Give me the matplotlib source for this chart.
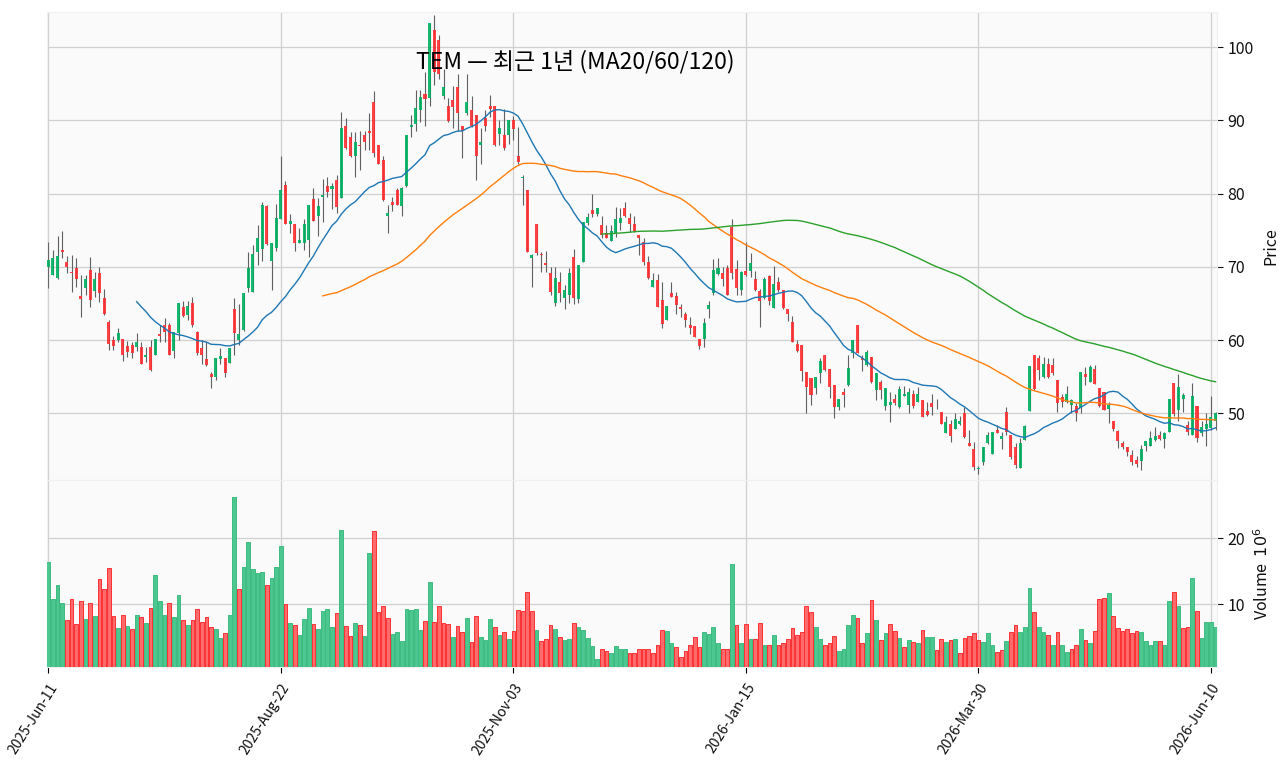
import numpy as np
import pandas as pd
import matplotlib
matplotlib.use('Agg')
import matplotlib.pyplot as plt

plt.rcParams['font.family'] = ['Noto Sans CJK KR', 'DejaVu Sans']

# tick labels every 50 sessions
tick_labels = ['2025-Jun-11', '2025-Aug-22', '2025-Nov-03',
               '2026-Jan-15', '2026-Mar-30', '2026-Jun-10']

# daily OHLC
opens = [70.0, 68.9, 68.5, 72.3, 70.6, 69.3, 69.8, 66.0, 67.1, 69.6,
         66.7, 69.1, 65.8, 62.5, 60.0, 60.0, 60.1, 59.2, 59.3, 59.0,
         59.1, 57.7, 59.0, 58.0, 60.9, 62.0, 62.0, 58.5, 61.0, 64.5,
         63.4, 65.1, 61.1, 58.9, 57.4, 55.4, 55.0, 57.4, 57.6, 56.9,
         64.3, 60.0, 61.4, 67.1, 66.6, 72.0, 72.4, 78.3, 70.8, 72.6,
         76.6, 81.2, 75.8, 75.8, 73.3, 73.3, 73.7, 79.2, 77.0, 79.5,
         81.0, 80.7, 81.8, 79.4, 89.2, 87.7, 85.1, 86.7, 88.0, 88.5,
         92.5, 86.7, 84.6, 77.0, 78.8, 80.5, 78.3, 81.0, 89.1, 89.5,
         91.4, 93.6, 93.0, 102.3, 101.0, 93.3, 92.0, 92.8, 94.5, 89.2,
         91.0, 91.4, 90.7, 86.6, 90.3, 92.0, 92.0, 88.2, 88.0, 88.0,
         90.1, 85.2, 82.1, 80.5, 71.2, 75.9, 71.7, 70.5, 69.2, 65.1,
         68.0, 65.8, 66.1, 71.4, 65.6, 70.7, 76.0, 77.8, 77.2, 75.7,
         74.6, 73.5, 74.6, 76.0, 78.0, 76.7, 75.8, 74.4, 73.4, 70.6,
         67.3, 68.2, 65.5, 62.7, 66.5, 66.0, 64.5, 63.6, 62.1, 61.9,
         60.1, 60.1, 64.2, 66.4, 69.0, 69.1, 69.9, 75.4, 69.7, 66.8,
         69.5, 69.5, 68.4, 66.7, 65.7, 68.8, 64.4, 68.0, 66.8, 64.2,
         62.5, 59.5, 59.3, 55.6, 54.8, 53.5, 55.5, 58.0, 56.1, 53.9,
         50.9, 52.9, 53.9, 58.2, 62.0, 57.6, 56.6, 57.7, 53.2, 54.3,
         51.0, 51.1, 52.0, 50.9, 52.4, 51.1, 52.7, 51.5, 51.8, 50.3,
         51.4, 50.9, 50.2, 47.3, 48.5, 47.9, 48.5, 50.0, 46.0, 45.1,
         42.4, 43.3, 46.0, 44.5, 47.7, 46.5, 50.2, 47.1, 45.4, 42.6,
         46.4, 50.3, 58.0, 57.5, 54.9, 56.8, 56.6, 54.5, 52.3, 51.6,
         51.1, 51.0, 50.7, 55.4, 54.3, 56.1, 53.5, 52.9, 50.6, 48.9,
         47.6, 46.0, 45.4, 44.3, 43.6, 43.5, 45.5, 45.5, 46.3, 47.1,
         46.5, 47.4, 54.2, 50.5, 52.0, 48.4, 47.0, 51.0, 47.3, 47.9,
         48.0, 49.0]
highs = [73.4, 72.3, 74.2, 74.9, 71.5, 71.6, 71.2, 68.9, 68.9, 71.4,
         69.3, 70.0, 67.0, 62.8, 60.6, 61.6, 60.1, 59.9, 59.8, 61.0,
         59.8, 59.1, 60.0, 60.1, 62.1, 63.0, 62.3, 61.1, 65.0, 65.3,
         65.3, 65.9, 61.2, 60.0, 59.7, 55.7, 57.6, 58.9, 57.6, 58.9,
         65.8, 64.9, 66.4, 72.0, 73.0, 75.7, 78.9, 78.5, 73.3, 78.6,
         85.2, 81.7, 77.2, 75.8, 75.3, 76.5, 78.4, 80.8, 79.4, 82.0,
         82.3, 81.5, 82.6, 91.1, 90.3, 88.4, 88.4, 88.6, 88.6, 91.0,
         94.0, 86.7, 85.2, 78.4, 79.5, 80.8, 80.9, 88.0, 90.7, 94.1,
         94.1, 96.6, 103.3, 104.4, 101.6, 97.0, 93.0, 94.7, 96.4, 89.3,
         96.4, 93.3, 90.8, 88.9, 91.4, 93.4, 92.0, 90.0, 91.6, 90.0,
         90.6, 89.1, 82.5, 80.5, 71.8, 75.9, 72.0, 72.1, 70.0, 70.0,
         69.3, 67.5, 69.8, 72.4, 70.3, 76.1, 77.4, 80.0, 78.0, 77.0,
         75.7, 75.7, 78.2, 78.0, 78.9, 77.3, 77.0, 74.4, 73.9, 71.5,
         69.1, 69.0, 68.0, 64.6, 67.9, 66.6, 64.9, 63.9, 63.2, 61.9,
         60.1, 63.0, 65.3, 71.1, 71.2, 70.0, 70.2, 76.5, 70.9, 69.4,
         73.4, 71.9, 69.4, 67.0, 68.6, 68.9, 70.1, 68.6, 66.8, 64.2,
         63.3, 60.0, 59.3, 55.6, 54.8, 55.0, 57.6, 58.0, 56.1, 53.9,
         52.0, 53.4, 58.0, 60.0, 62.0, 58.0, 58.6, 57.7, 55.5, 54.5,
         53.4, 52.9, 52.7, 53.7, 53.7, 53.4, 53.2, 53.6, 51.8, 51.5,
         52.6, 52.0, 50.2, 49.6, 49.1, 50.0, 49.6, 50.9, 47.7, 46.1,
         42.8, 45.4, 47.5, 47.4, 48.4, 47.5, 50.9, 47.1, 45.9, 46.6,
         48.4, 56.5, 58.0, 57.9, 57.7, 57.6, 57.6, 54.5, 52.7, 53.8,
         52.0, 51.4, 55.6, 56.3, 56.6, 56.6, 53.5, 52.9, 51.6, 49.0,
         47.7, 46.2, 45.4, 45.0, 44.2, 45.7, 46.2, 47.6, 48.2, 47.6,
         47.5, 51.9, 54.2, 55.4, 52.8, 48.9, 54.2, 51.0, 48.9, 50.0,
         52.4, 50.2]
lows = [67.1, 68.9, 68.4, 71.2, 69.2, 66.6, 67.2, 63.2, 66.1, 64.5,
        65.9, 65.2, 63.4, 58.6, 58.6, 59.8, 57.2, 57.7, 57.5, 58.5,
        56.7, 57.0, 55.8, 58.0, 59.7, 59.7, 58.0, 57.6, 60.0, 63.1,
        62.8, 61.8, 57.9, 56.8, 56.4, 53.4, 54.5, 56.7, 54.9, 56.9,
        57.9, 59.3, 61.3, 66.6, 66.6, 70.3, 70.8, 73.0, 66.9, 72.1,
        76.6, 75.8, 74.6, 72.2, 73.2, 72.3, 71.4, 76.2, 74.2, 76.1,
        79.5, 77.9, 77.4, 79.4, 86.1, 85.0, 82.3, 83.2, 86.0, 86.0,
        85.0, 84.1, 79.0, 74.6, 77.6, 78.4, 77.0, 80.9, 87.7, 88.6,
        89.8, 89.2, 92.0, 94.8, 95.7, 92.9, 89.8, 88.9, 88.6, 84.8,
        90.8, 89.1, 81.8, 84.1, 88.5, 90.5, 86.5, 86.6, 85.9, 86.8,
        87.3, 84.0, 78.4, 72.0, 67.3, 71.6, 69.3, 69.3, 66.2, 64.7,
        65.2, 64.3, 65.0, 64.9, 65.0, 70.7, 75.7, 76.8, 77.0, 73.9,
        73.9, 73.5, 74.1, 75.0, 76.8, 74.8, 74.7, 71.6, 70.2, 68.4,
        67.3, 64.5, 61.6, 62.7, 65.9, 63.5, 63.2, 61.8, 60.9, 60.4,
        58.8, 59.1, 63.0, 66.1, 68.9, 67.4, 66.1, 68.4, 66.1, 66.1,
        68.8, 68.6, 66.7, 61.8, 65.6, 64.8, 64.4, 66.6, 64.3, 62.6,
        59.7, 58.4, 54.4, 50.0, 51.1, 52.7, 54.1, 55.8, 52.1, 49.4,
        50.5, 50.8, 53.8, 57.5, 58.3, 55.8, 56.4, 54.2, 51.8, 52.0,
        50.4, 48.8, 51.2, 50.7, 52.4, 50.1, 50.7, 51.5, 49.5, 49.7,
        49.8, 50.6, 48.6, 47.3, 46.1, 47.8, 48.4, 46.7, 45.5, 42.3,
        41.7, 43.0, 45.8, 44.4, 47.3, 45.2, 47.1, 43.7, 42.6, 42.5,
        46.4, 50.3, 53.2, 54.5, 54.8, 54.8, 55.2, 50.2, 50.9, 51.4,
        50.0, 48.9, 50.0, 53.9, 54.3, 54.0, 50.8, 50.4, 48.7, 47.6,
        45.3, 45.2, 44.2, 43.0, 42.7, 42.3, 44.8, 45.5, 46.2, 46.4,
        45.3, 47.4, 49.7, 48.9, 50.2, 47.0, 47.0, 46.1, 46.9, 45.5,
        47.7, 47.7]
closes = [70.9, 71.2, 71.5, 72.0, 70.0, 69.2, 68.3, 65.6, 68.4, 65.5,
          68.4, 66.5, 63.5, 59.5, 59.2, 61.0, 58.0, 58.4, 58.3, 59.7,
          56.8, 58.0, 55.9, 60.1, 60.6, 61.1, 58.0, 61.1, 65.0, 63.3,
          64.6, 62.0, 58.2, 57.9, 56.6, 55.0, 57.6, 57.8, 55.5, 58.9,
          61.0, 60.9, 66.4, 69.8, 71.7, 73.9, 78.4, 73.1, 73.3, 76.7,
          80.5, 75.8, 76.3, 73.3, 73.7, 75.9, 78.4, 76.3, 78.3, 79.8,
          80.2, 81.1, 78.2, 88.9, 86.2, 85.1, 87.0, 86.5, 87.0, 88.3,
          85.5, 84.1, 79.1, 77.4, 78.4, 78.5, 80.8, 88.0, 89.4, 91.7,
          93.2, 92.9, 103.3, 96.6, 96.4, 94.5, 89.9, 91.8, 91.0, 88.5,
          92.5, 89.3, 85.2, 87.0, 89.2, 91.5, 86.6, 88.9, 86.2, 90.0,
          88.8, 84.3, 82.3, 72.0, 71.6, 71.9, 71.6, 70.2, 66.6, 68.5,
          66.4, 66.9, 69.2, 65.8, 70.3, 76.1, 76.8, 77.2, 78.0, 74.3,
          74.0, 74.9, 76.5, 76.7, 77.0, 75.8, 74.9, 74.0, 70.7, 68.5,
          68.2, 64.5, 62.2, 64.6, 65.9, 64.8, 64.2, 62.7, 61.7, 60.4,
          59.2, 62.4, 64.8, 69.6, 69.9, 68.3, 66.2, 69.2, 67.1, 69.3,
          68.9, 70.5, 66.8, 65.3, 68.4, 65.3, 67.7, 66.8, 64.4, 63.5,
          59.8, 58.5, 55.8, 53.6, 52.5, 55.0, 57.2, 55.9, 53.6, 50.8,
          52.0, 52.5, 56.2, 60.0, 58.3, 57.3, 58.4, 54.3, 55.5, 53.2,
          53.4, 51.5, 51.4, 53.3, 52.7, 52.9, 51.0, 52.7, 49.5, 49.8,
          50.9, 50.8, 48.6, 48.8, 46.9, 49.2, 49.0, 46.8, 45.5, 42.7,
          42.6, 45.4, 47.1, 47.4, 47.3, 46.9, 47.5, 44.1, 43.0, 46.0,
          48.3, 56.5, 53.3, 55.9, 56.8, 55.0, 55.5, 51.4, 51.6, 52.7,
          51.8, 50.0, 55.6, 54.9, 56.3, 54.0, 51.0, 50.5, 51.2, 47.9,
          46.2, 45.4, 44.7, 43.3, 43.1, 45.2, 46.2, 46.7, 46.9, 46.5,
          47.3, 51.9, 49.9, 53.6, 52.5, 47.5, 52.4, 46.6, 48.2, 48.5,
          49.5, 50.0]
volumes = [16.4, 10.8, 12.9, 10.2, 7.7, 10.8, 7.0, 10.5, 7.8, 10.2,
           8.2, 13.8, 12.3, 15.5, 8.2, 6.4, 8.4, 6.7, 6.3, 8.4,
           8.1, 7.1, 9.4, 14.4, 10.5, 8.4, 10.2, 8.1, 11.4, 7.6,
           6.8, 7.6, 9.3, 7.3, 8.1, 6.6, 6.3, 4.9, 5.7, 8.4,
           26.2, 12.3, 15.7, 19.4, 15.4, 14.7, 14.9, 12.9, 14.0, 15.7,
           18.8, 10.1, 7.2, 6.9, 5.4, 7.8, 9.4, 7.0, 6.3, 9.0,
           9.3, 6.6, 8.7, 21.3, 6.7, 5.2, 7.2, 6.9, 5.2, 17.8,
           21.1, 8.8, 9.7, 7.9, 5.5, 5.8, 4.4, 9.3, 9.1, 9.3,
           6.1, 7.5, 13.4, 7.3, 9.7, 7.1, 7.0, 5.1, 6.7, 5.8,
           7.9, 4.3, 8.2, 5.1, 4.6, 7.8, 6.6, 5.4, 5.8, 4.7,
           6.0, 9.1, 9.0, 11.9, 9.0, 6.1, 4.4, 4.7, 6.8, 6.3,
           5.0, 4.6, 4.7, 7.1, 6.6, 6.1, 4.9, 3.7, 1.7, 3.2,
           2.9, 2.6, 3.7, 3.2, 3.3, 2.7, 2.7, 3.2, 3.3, 3.2,
           2.6, 3.9, 6.1, 5.9, 4.1, 3.6, 2.0, 3.0, 3.8, 5.0,
           3.5, 5.8, 5.5, 6.6, 4.1, 3.3, 3.2, 16.1, 6.8, 4.2,
           7.0, 4.8, 4.8, 7.1, 3.9, 3.9, 5.3, 3.8, 4.2, 4.7,
           6.4, 5.3, 5.8, 9.7, 8.8, 6.6, 4.7, 3.9, 4.2, 5.2,
           3.0, 3.2, 6.9, 8.4, 7.9, 4.1, 5.7, 10.7, 7.6, 4.6,
           5.7, 7.0, 5.9, 4.9, 3.5, 4.6, 4.3, 4.1, 6.1, 5.1,
           5.1, 3.1, 4.7, 4.3, 4.6, 4.8, 2.6, 4.9, 5.2, 5.7,
           4.6, 4.3, 5.7, 3.8, 2.8, 3.1, 4.4, 5.8, 6.8, 5.8,
           6.6, 12.5, 8.8, 6.6, 5.8, 5.4, 3.8, 5.8, 3.8, 2.8,
           3.2, 3.8, 6.3, 4.6, 4.1, 6.0, 10.8, 11.0, 11.7, 8.2,
           6.4, 6.0, 6.2, 5.7, 6.0, 5.8, 4.4, 3.8, 4.4, 4.5,
           3.8, 10.5, 11.9, 9.7, 6.4, 6.6, 14.0, 9.0, 4.9, 7.3,
           7.3, 6.6]

df = pd.DataFrame({'Open': opens, 'High': highs, 'Low': lows,
                   'Close': closes, 'Volume': volumes})
n = len(df)
x = np.arange(n)

# yahoo-like colours
up_c, dn_c = '#00b060', '#fe3032'
vup_c, vdn_c = '#4dc790', '#fd6b6c'

up = df['Close'] >= df['Open']
vol_up = df['Close'].diff().fillna(0) >= 0   # volume colour: close vs previous close

fig = plt.figure(figsize=(12.88, 7.70), dpi=100)
ax = fig.add_axes([47/1288, 1-480/770, 1170/1288, 468/770])
axv = fig.add_axes([47/1288, 1-667/770, 1170/1288, 187/770], sharex=ax)

for a in (ax, axv):
    a.set_facecolor('#fafafa')
    a.grid(True, color='#d0d0d0', linewidth=0.9)
    a.set_axisbelow(True)
    for s in a.spines.values():
        s.set_color('#f0f0f0')
    a.yaxis.tick_right()
    a.yaxis.set_label_position('right')
    a.tick_params(axis='y', colors='#101010', labelsize=11.5, length=4)

# candles
ax.vlines(x, df['Low'], df['High'], color='#606060', linewidth=0.8, zorder=2)
body_lo = np.minimum(df['Open'], df['Close'])
body_h = np.maximum((df['Close'] - df['Open']).abs(), 0.08)
ax.bar(x, body_h, bottom=body_lo, width=0.65,
       color=np.where(up, up_c, dn_c), alpha=0.9, linewidth=0, zorder=3)

# moving averages
for w, col in zip((20, 60, 120), ('#1f77b4', '#ff7f0e', '#2ca02c')):
    ax.plot(x, df['Close'].rolling(w).mean(), color=col, linewidth=1.0, zorder=4)

ax.set_ylim(40.9, 104.8)
ax.set_yticks([50, 60, 70, 80, 90, 100])
ax.set_ylabel('Price', fontsize=11.5, color='#101010', labelpad=6)
ax.tick_params(axis='x', labelbottom=False, length=0)

# volume
axv.bar(x, df['Volume'], width=0.8,
        color=np.where(vol_up, vup_c, vdn_c),
        edgecolor=np.where(vol_up, '#3dbb80', '#fe3032'), linewidth=0.7, zorder=3)
axv.set_ylim(0.3 * df['Volume'].min(), 1.1 * df['Volume'].max())
axv.set_yticks([10, 20])
axv.set_ylabel('Volume  $10^{6}$', fontsize=11.5, color='#101010', labelpad=6)

axv.set_xlim(-0.28, n - 0.7)
ticks = np.arange(0, n, 50)
axv.set_xticks(ticks)
axv.set_xticklabels(tick_labels, rotation=58, ha='right', rotation_mode='anchor',
                    fontsize=10, color='#101010')
axv.tick_params(axis='x', length=4, pad=6)

fig.text(575/1288, 1-62/770, 'TEM — 최근 1년 (MA20/60/120)', ha='center', va='center',
         fontsize=16.5, color='black')

fig.savefig('out.png', dpi=100)
